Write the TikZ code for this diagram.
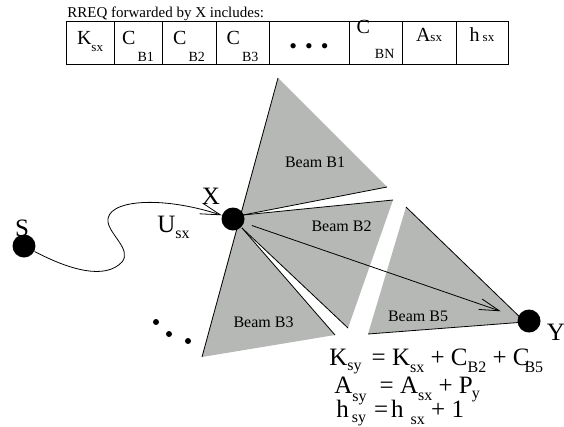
\documentclass[tikz,border=0pt]{standalone}
\usepackage{fontspec}
\setmainfont{Liberation Serif}
\usetikzlibrary{arrows.meta,positioning}

\definecolor{beamgray}{RGB}{181,184,180}
\newcommand{\subtxt}[3][16]{\raisebox{-#2pt}{\fontsize{#1}{#1}\selectfont #3}}

\begin{document}
\begin{tikzpicture}[
  x=1pt, y=-1pt,
  line width=0.8pt,
  every node/.style={inner sep=0pt},
  cell/.style={draw, outer sep=0pt, minimum height=43pt, text height=11pt,
    text depth=8pt, font=\fontsize{20}{20}\selectfont},
  beamlabel/.style={font=\fontsize{16}{16}\selectfont},
  dot/.style={circle, fill, minimum size=23pt},
  big/.style={font=\fontsize{25}{25}\selectfont, anchor=base},
  barb/.style={-{Straight Barb[length=20pt,width=11pt]}}
]
\useasboundingbox (0,0) rectangle (564,426);

% RREQ fields
\node[anchor=base west, font=\fontsize{15}{15}\selectfont] (caption) at (67,17.5)
  {RREQ forwarded by X includes:};
\node[cell, minimum width=48pt, anchor=north west] (cK) at (66,21)
  {K\subtxt[13]{7}{sx}\hspace{6pt}};
\node[cell, minimum width=48pt, right=0pt of cK] (cB1)
  {C\hspace{2pt}\subtxt[14]{17}{B1}\hspace{3pt}};
\node[cell, minimum width=54pt, right=0pt of cB1] (cB2)
  {C\hspace{2pt}\subtxt[14]{17}{B2}};
\node[cell, minimum width=53pt, right=0pt of cB2] (cB3)
  {C\hspace{2pt}\subtxt[14]{17}{B3}};
\node[cell, minimum width=80pt, right=0pt of cB3] (cdots)
  {\raisebox{-9pt}{\fontsize{22}{22}\selectfont\textbullet\hspace{8pt}\textbullet\hspace{8pt}\textbullet}\hspace{4pt}};
\node[cell, minimum width=53pt, right=0pt of cdots] (cBN)
  {\raisebox{11pt}{C}\hspace{5pt}\subtxt[14]{14}{BN}\hspace{11pt}};
\node[cell, minimum width=54pt, right=0pt of cBN] (cA)
  {\raisebox{2.5pt}{A\subtxt[13]{0}{sx}}\hspace{20pt}};
\node[cell, minimum width=52pt, right=0pt of cA] (ch)
  {\raisebox{2.5pt}{h\hspace{3pt}\subtxt[13]{0}{sx}}\hspace{10pt}};

% beams
\coordinate (b1t) at (278,78);
\coordinate (b1r) at (387,187);
\coordinate (xc) at (239,219);
\coordinate (a12) at (243,215);
\coordinate (a23) at (242,228);
\coordinate (b2t) at (393,200);
\coordinate (b2b) at (348,328);
\coordinate (b3l) at (202,357);
\coordinate (b3r) at (335,335);
\coordinate (b5t) at (406,207);
\coordinate (b5b) at (368,334);
\coordinate (b5y) at (525,322);

\fill[beamgray] (b1t) -- (b1r) -- (a12) -- (xc) -- cycle;
\fill[beamgray] (a12) -- (b2t) -- (b2b) -- (a23) -- (xc) -- cycle;
\fill[beamgray] (xc) -- (a23) -- (b3r) -- (b3l) -- cycle;
\fill[beamgray] (b5t) -- (b5y) -- (b5b) -- cycle;
\draw (b1t) -- (b3l);
\draw (a12) -- (b1r);
\draw (a12) -- (b2t);
\draw (a23) -- (b2b);
\draw (a23) -- (b3r);
\draw (b5t) -- (b5y) -- (b5b);

\node[beamlabel] (lB1) at (315,162.5) {Beam B1};
\node[beamlabel] (lB2) at (341.5,226) {Beam B2};
\node[beamlabel] (lB3) at (263.5,322) {Beam B3};
\node[beamlabel] (lB5) at (418,316.5) {Beam B5};

% nodes
\node[dot] (S) at (24,246) {};
\node[dot] (X) at (233,219) {};
\node[dot] (Y) at (529,321) {};
\node[big] (Slbl) at (22,236) {S};
\node[big] (Xlbl) at (211,204) {X};
\node[big] (Ylbl) at (556,340) {Y};
\node[big, anchor=base west] (Ulbl) at (157,232) {U\subtxt{6.5}{sx}};

\draw[barb] (S) .. controls (70,270) and (105,280) .. (122,262)
  .. controls (132,250) and (110,235) .. (108,222)
  .. controls (105,200) and (160,195) .. (X);
\draw[barb, shorten <=8pt, shorten >=18pt] (X) -- (Y);

\foreach \p in {(156,322),(169,334),(188,341)}
  \fill \p circle (3pt);

% updated fields at Y
\node[big, anchor=base west] (eqK) at (329,365)
  {K\subtxt{5}{sy}\hspace{10pt}= K\subtxt{7}{sx} + C\subtxt{7}{B2} + C\hspace{-5pt}\subtxt{7}{B5}};
\node[big, anchor=base west] (eqA) at (334,393)
  {A\subtxt{8}{sy}\hspace{13pt}= A\subtxt{7}{sx} + P\hspace{-1pt}\subtxt{5}{y}};
\node[big, anchor=base west] (eqh) at (336,417)
  {h\hspace{3pt}\subtxt{5}{sy}\hspace{8pt}=\hspace{3pt}h\hspace{7pt}\subtxt{7}{sx} + 1};
\end{tikzpicture}
\end{document}
